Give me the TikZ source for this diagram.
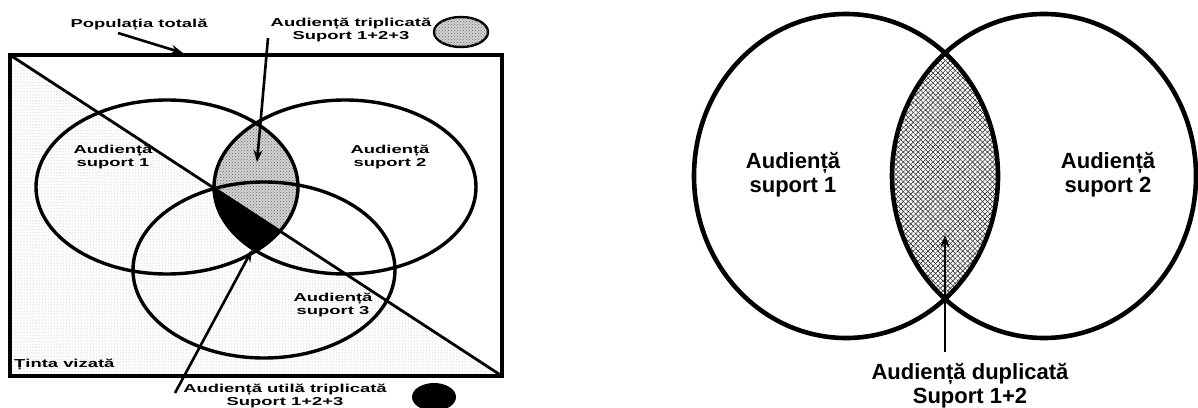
\documentclass[tikz,border=0pt]{standalone}
\usepackage{fontspec}
\setmainfont{Liberation Sans}
\newfontfamily\widefont[FakeStretch=1.6]{Liberation Sans}
\usetikzlibrary{arrows.meta,patterns,patterns.meta,shapes.geometric}

\begin{document}
\begin{tikzpicture}[x=1pt,y=-1pt,
  lab/.style={font=\widefont\fontsize{11.5}{13}\selectfont\bfseries,align=center,inner sep=0pt},
  big/.style={font=\fontsize{22}{24}\selectfont\bfseries,align=center,inner sep=0pt},
  ring/.style={line width=3.4pt},
  bigring/.style={line width=4.6pt},
  ptr/.style={-{Stealth[length=12pt,width=9pt]},line width=2.6pt},
  tri/.style={fill=gray!35,postaction={pattern=crosshatch dots,pattern color=gray!85!black}},
  dupa/.style={pattern={Lines[angle=45,distance=3.5pt,line width=.6pt]},pattern color=black!80},
  dupb/.style={pattern={Lines[angle=-45,distance=3.5pt,line width=.6pt]},pattern color=black!80}
]
\useasboundingbox (0,0) rectangle (1198,407);

% ---- left: three supports
\fill[pattern=dots,pattern color=gray!70] (10,55) -- (502,376) -- (10,376) -- cycle;
\begin{scope}
  \clip (167,187) ellipse [x radius=131,y radius=87];
  \fill[tri] (345,187) ellipse [x radius=131,y radius=87];
  \clip (345,187) ellipse [x radius=131,y radius=87];
  \fill (10,55) -- (502,376) -- (10,376) -- cycle;
\end{scope}
\draw[ring] (167,187) ellipse [x radius=131,y radius=87];
\draw[ring] (345,187) ellipse [x radius=131,y radius=87];
\draw[ring] (264,270) ellipse [x radius=131,y radius=88];
\draw[line width=2.8pt] (10,55) -- (502,376);
\draw[line width=3.4pt] (10,55) rectangle (502,376);

\node[lab] (s1) at (113,157) {Audiență\\suport 1};
\node[lab] (s2) at (390,157) {Audiență\\suport 2};
\node[lab] (s3) at (333,305) {Audiență\\suport 3};
\node[lab,anchor=west] (tinta) at (14,365) {Ținta vizată};

\node[lab] (pop) at (139,25) {Populația totală};
\node[lab] (trip) at (351,30) {Audiență triplicată\\Suport 1+2+3};
\node[lab] (util) at (285,396) {Audiență utilă triplicată\\Suport 1+2+3};
\node[draw,line width=2.4pt,ellipse,minimum width=54pt,minimum height=30pt,tri] (legtrip) at (461,32) {};
\node[fill,ellipse,minimum width=44pt,minimum height=28pt] (legutil) at (434,397) {};

\coordinate (popFrom) at (118,33);
\coordinate (popTip) at (183,53);
\coordinate (tripFrom) at (268,38);
\coordinate (tripTip) at (257,162);
\coordinate (utilFrom) at (175,393);
\coordinate (utilTip) at (252,250);
\draw[ptr] (popFrom) -- (popTip);
\draw[ptr] (tripFrom) -- (tripTip);
\draw[ptr] (utilFrom) -- (utilTip);

% ---- right: two supports
\begin{scope}
  \clip (846,176) ellipse [x radius=152,y radius=162];
  \fill[dupa] (1044,176) ellipse [x radius=152,y radius=162];
  \fill[dupb] (1044,176) ellipse [x radius=152,y radius=162];
\end{scope}
\draw[bigring] (846,176) ellipse [x radius=152,y radius=162];
\draw[bigring] (1044,176) ellipse [x radius=152,y radius=162];

\node[big] (r1) at (793,175) {Audiență\\suport 1};
\node[big] (r2) at (1108,175) {Audiență\\suport 2};
\node[big] (dupl) at (970,386) {Audiență duplicată\\Suport 1+2};

\coordinate (dupFoot) at (945,352);
\coordinate (dupTip) at (945,235);
\draw[ptr] (dupFoot) -- (dupTip);
\end{tikzpicture}
\end{document}
